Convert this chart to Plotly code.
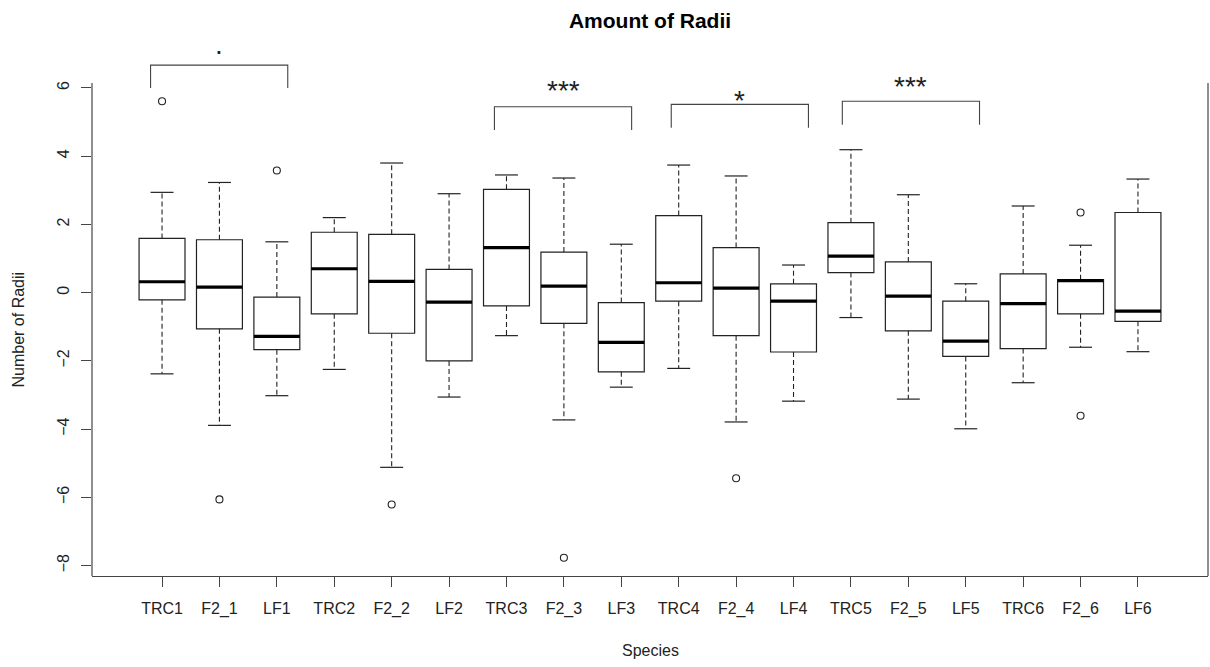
import plotly.graph_objects as go

categories = ["TRC1", "F2_1", "LF1", "TRC2", "F2_2", "LF2", "TRC3", "F2_3", "LF3",
              "TRC4", "F2_4", "LF4", "TRC5", "F2_5", "LF5", "TRC6", "F2_6", "LF6"]
lower = [-2.38, -3.89, -3.02, -2.25, -5.12, -3.06, -1.26, -3.73, -2.77,
         -2.22, -3.79, -3.18, -0.73, -3.12, -3.99, -2.64, -1.60, -1.73]
q1 = [-0.21, -1.06, -1.67, -0.62, -1.19, -2.00, -0.39, -0.90, -2.32,
      -0.25, -1.26, -1.74, 0.59, -1.12, -1.87, -1.64, -0.62, -0.84]
median = [0.32, 0.16, -1.28, 0.70, 0.33, -0.28, 1.32, 0.19, -1.46,
          0.29, 0.13, -0.25, 1.07, -0.10, -1.42, -0.32, 0.35, -0.54]
q3 = [1.59, 1.55, -0.13, 1.77, 1.71, 0.68, 3.03, 1.19, -0.29,
      2.26, 1.32, 0.26, 2.05, 0.90, -0.25, 0.55, 0.38, 2.35]
upper = [2.94, 3.23, 1.49, 2.20, 3.80, 2.90, 3.45, 3.36, 1.42,
         3.74, 3.42, 0.81, 4.19, 2.87, 0.26, 2.54, 1.39, 3.33]
outlier_group = ["TRC1", "F2_1", "LF1", "F2_2", "F2_3", "F2_4", "F2_6", "F2_6"]
outlier_value = [5.61, -6.06, 3.58, -6.21, -7.77, -5.44, 2.35, -3.61]

sig_left = [0.80, 6.79, 9.87, 12.85]
sig_right = [3.19, 9.18, 12.26, 15.24]
sig_top = [6.67, 5.45, 5.52, 5.61]
sig_bottom = [6.00, 4.77, 4.83, 4.92]
sig_label = [".", "***", "*", "***"]
sig_label_y = [7.14, 6.05, 5.75, 6.17]

y_ticks = [-8, -6, -4, -2, 0, 2, 4, 6]

FONT = "Liberation Sans, Arial, sans-serif"
LINE = "#222222"
AX = "#444444"

W, H = 1210, 667
ML, MR, MB = 92, 2, 91
FRAME_TOP = 83      # top of the R plot frame in pixels
MT = 34             # extended plotting area so the brackets above the frame are visible

pos = list(range(1, len(categories) + 1))
idx = {c: i + 1 for i, c in enumerate(categories)}
BOXW = 0.8
CAPW = 0.4

# R-style axis limits (4% extension)
all_vals = lower + upper + outlier_value
ymin, ymax = min(all_vals), max(all_vals)
span = ymax - ymin
yr0, yr1 = ymin - 0.04 * span, ymax + 0.04 * span
n = len(categories)
xr = [0.5 - 0.04 * n, n + 0.5 + 0.04 * n]
frame_h = H - MB - FRAME_TOP
plot_h = H - MB - MT
yr_top = yr0 + (yr1 - yr0) * plot_h / frame_h

fig = go.Figure()

fig.add_trace(go.Box(
    x=pos, q1=q1, median=median, q3=q3, lowerfence=q1, upperfence=q3,
    width=BOXW, whiskerwidth=0, fillcolor="white",
    line=dict(color=LINE, width=1.2), boxpoints=False, hoverinfo="skip",
    showlegend=False,
))

wx, wy, cx, cy, mx, my = [], [], [], [], [], []
for p, lo, a, m, b, hi in zip(pos, lower, q1, median, q3, upper):
    wx += [p, p, None, p, p, None]
    wy += [b, hi, None, a, lo, None]
    cx += [p - CAPW / 2, p + CAPW / 2, None, p - CAPW / 2, p + CAPW / 2, None]
    cy += [hi, hi, None, lo, lo, None]
    mx += [p - BOXW / 2, p + BOXW / 2, None]
    my += [m, m, None]

fig.add_trace(go.Scatter(x=wx, y=wy, mode="lines", showlegend=False, hoverinfo="skip",
                         line=dict(color=LINE, width=1.1, dash="5px,3px")))
fig.add_trace(go.Scatter(x=cx, y=cy, mode="lines", showlegend=False, hoverinfo="skip",
                         line=dict(color=LINE, width=1.2)))
fig.add_trace(go.Scatter(x=mx, y=my, mode="lines", showlegend=False, hoverinfo="skip",
                         line=dict(color="black", width=3.2)))
fig.add_trace(go.Scatter(x=[idx[g] for g in outlier_group], y=outlier_value, mode="markers",
                         showlegend=False, hoverinfo="skip",
                         marker=dict(symbol="circle-open", size=7, color=LINE,
                                     line=dict(width=1.1, color=LINE))))

bx, by = [], []
for l, r, t, b in zip(sig_left, sig_right, sig_top, sig_bottom):
    bx += [l, l, r, r, None]
    by += [b, t, t, b, None]
fig.add_trace(go.Scatter(x=bx, y=by, mode="lines", showlegend=False, hoverinfo="skip",
                         line=dict(color=AX, width=1.1)))

for l, r, lab, ly in zip(sig_left, sig_right, sig_label, sig_label_y):
    fig.add_annotation(x=(l + r) / 2, y=ly, text=lab, showarrow=False,
                       xanchor="center", yanchor="middle",
                       yshift=(5 if lab == "." else -4),
                       font=dict(family=FONT, size=28, color="#222222"))

fig.update_layout(
    width=W, height=H,
    margin=dict(l=ML, r=MR, t=MT, b=MB),
    paper_bgcolor="white", plot_bgcolor="white",
    font=dict(family=FONT, size=16, color="#222222"),
    boxmode="overlay",
    title=dict(text="<b>Amount of Radii</b>", x=0.5, xref="paper", xanchor="center",
               y=1 - 21 / H, yref="container", yanchor="middle",
               font=dict(family=FONT, size=21, color="black")),
    xaxis=dict(range=xr, tickvals=pos, ticktext=categories, showgrid=False, zeroline=False,
               showline=True, linecolor=AX, linewidth=1.2,
               ticks="outside", ticklen=10, tickcolor=AX, tickwidth=1.2,
               tickfont=dict(size=16), ticklabelstandoff=8),
    yaxis=dict(range=[yr0, yr_top], tickvals=y_ticks, showgrid=False, zeroline=False,
               showline=False,
               ticks="outside", ticklen=10, tickcolor=AX, tickwidth=1.2,
               tickangle=-90, tickfont=dict(size=16), ticklabelstandoff=6),
    shapes=[
        dict(type="line", xref="paper", yref="y", x0=0, x1=0, y0=yr0, y1=yr1,
             line=dict(color=AX, width=1.2)),
        dict(type="line", xref="paper", yref="y", x0=1, x1=1, y0=yr0, y1=yr1,
             line=dict(color=AX, width=1.2)),
    ],
)

fig.add_annotation(text="Species", xref="paper", yref="paper", x=0.5, y=0,
                   yshift=-74, xanchor="center", yanchor="middle", showarrow=False,
                   font=dict(family=FONT, size=16, color="#222222"))
fig.add_annotation(text="Number of Radii", xref="paper", yref="y", x=0, y=(yr0 + yr1) / 2,
                   xshift=-74, xanchor="center", yanchor="middle", textangle=-90,
                   showarrow=False, font=dict(family=FONT, size=16, color="#222222"))

fig.write_html("out.html")
